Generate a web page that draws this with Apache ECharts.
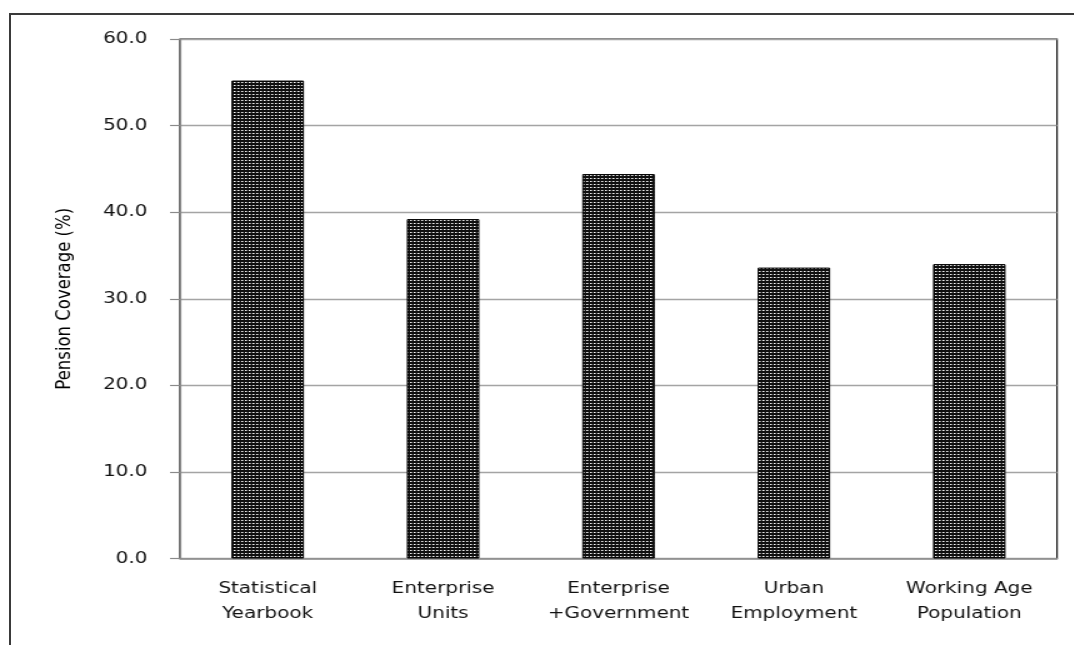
<!DOCTYPE html>
<html>
<head>
<meta charset="utf-8">
<script src="https://cdn.jsdelivr.net/npm/echarts@6/dist/echarts.min.js"></script>
<style>
  html, body { margin: 0; padding: 0; background: #fff; overflow: hidden; }
  body { width: 1074px; height: 645px; position: relative; }
  /* outer chart-area frame, running off the right and bottom edges */
  #frame {
    position: absolute; left: 9px; top: 13px; width: 1200px; height: 800px;
    border: 2px solid #3a3a3a; box-sizing: border-box;
  }
  /* the chart is drawn in a narrower box and widened, giving the wide lettering */
  #chart {
    position: absolute; left: 0; top: 0; width: 860px; height: 645px;
    transform: scaleX(1.25); transform-origin: 0 0;
  }
</style>
</head>
<body>
<div id="frame"></div>
<div id="chart"></div>
<script>
// Pension coverage by data source (%)
const categories = [
  'Statistical\nYearbook',
  'Enterprise\nUnits',
  'Enterprise\n+Government',
  'Urban\nEmployment',
  'Working Age\nPopulation'
];
const coverage = [55.2, 39.2, 44.4, 33.6, 34.0];
const yTickLabels = ['0.0', '10.0', '20.0', '30.0', '40.0', '50.0', '60.0'];

// dotted fill: dark ground with small light dots
function dotPattern() {
  const c = document.createElement('canvas');
  c.width = 3; c.height = 3;
  const g = c.getContext('2d');
  g.fillStyle = '#101010';
  g.fillRect(0, 0, 3, 3);
  g.fillStyle = '#ffffff';
  g.fillRect(1, 1, 1, 1);
  g.fillStyle = '#8c8c8c';
  g.fillRect(2, 1, 1, 1);
  return c;
}

const chart = echarts.init(document.getElementById('chart'), null, { renderer: 'canvas' });
const font = 'DejaVu Sans';

chart.setOption({
  animation: false,
  backgroundColor: 'transparent',
  grid: {
    left: 144, right: 14.4, top: 39, bottom: 86.5,
    show: true, borderColor: '#111', borderWidth: 1.2, backgroundColor: 'transparent'
  },
  xAxis: {
    type: 'category',
    data: categories,
    axisLine: { show: true, lineStyle: { color: '#8a8a8a', width: 1.5 } },
    axisTick: { show: false },
    axisLabel: {
      margin: 18, fontFamily: font, fontSize: 16, color: '#111',
      lineHeight: 25, interval: 0
    }
  },
  yAxis: {
    type: 'value',
    min: 0, max: 60, interval: 10,
    name: 'Pension Coverage (%)',
    nameLocation: 'middle',
    nameGap: 84,
    nameTextStyle: { fontFamily: font, fontSize: 16.5, color: '#000' },
    axisLine: { show: true, lineStyle: { color: '#8a8a8a', width: 1.2 } },
    axisTick: { show: true, length: 8, lineStyle: { color: '#8a8a8a', width: 1.2 } },
    splitLine: { show: true, lineStyle: { color: '#a4a4a4', width: 1.4 } },
    axisLabel: {
      margin: 26, fontFamily: font, fontSize: 16, color: '#111',
      formatter: (v) => yTickLabels[Math.round(v / 10)]
    }
  },
  series: [{
    type: 'bar',
    data: coverage,
    barWidth: 58,
    itemStyle: {
      color: { image: dotPattern(), repeat: 'repeat' },
      borderColor: '#000',
      borderWidth: 1
    }
  }]
});
</script>
</body>
</html>
